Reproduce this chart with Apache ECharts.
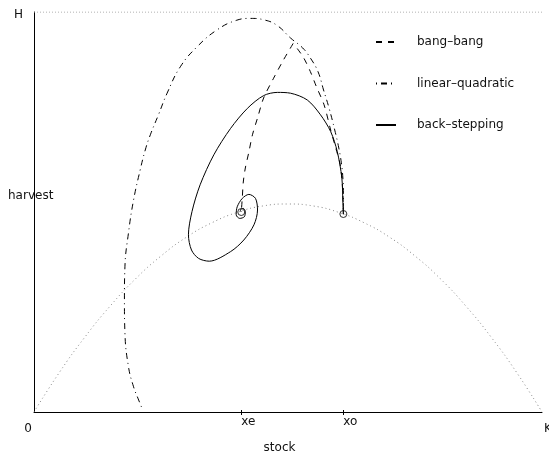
<!DOCTYPE html>
<html>
<head>
<meta charset="utf-8">
<script src="https://cdn.jsdelivr.net/npm/echarts@6/dist/echarts.min.js"></script>
<style>
html,body{margin:0;padding:0;background:#fff;}
#chart{width:549px;height:456px;}
</style>
</head>
<body>
<div id="chart"></div>
<script>
// ---- data (stock as fraction of K, harvest as fraction of H) ----
const xe = 0.408, xo = 0.609;
const ye = 0.500, yo = 0.495;
const xTickValues = [0, xe, xo, 1];
const xTickLabels = ['0', 'xe', 'xo', 'K'];
const yTickValues = [0.54, 1];
const yTickLabels = ['harvest', 'H'];

const growthX = [0,0.05,0.1,0.15,0.2,0.25,0.3,0.35,0.4,0.45,0.5,0.55,0.6,0.65,0.7,0.75,0.8,0.85,0.9,0.95,1];
const growthY = [0,0.099,0.187,0.265,0.333,0.390,0.437,0.473,0.499,0.515,0.520,0.515,0.499,0.473,0.437,0.390,0.333,0.265,0.187,0.099,0];
const capX = [0, 1];
const capY = [1, 1];

const bangUp = [[0.609,0.495],[0.608,0.543],[0.606,0.585],[0.602,0.623],[0.594,0.660],[0.584,0.705],[0.571,0.768],[0.556,0.813],[0.544,0.851],[0.531,0.885],[0.518,0.909],[0.510,0.921]];
const bangDown = [[0.510,0.921],[0.491,0.880],[0.471,0.833],[0.452,0.785],[0.440,0.735],[0.430,0.693],[0.423,0.650],[0.416,0.610],[0.412,0.575],[0.410,0.535],[0.408,0.500]];
const linQuad = [[0.609,0.495],[0.609,0.543],[0.608,0.585],[0.605,0.623],[0.600,0.660],[0.592,0.705],[0.581,0.759],[0.570,0.805],[0.559,0.851],[0.544,0.885],[0.529,0.910],[0.505,0.935],[0.479,0.966],[0.454,0.980],[0.426,0.984],[0.398,0.979],[0.360,0.955],[0.321,0.913],[0.288,0.863],[0.262,0.797],[0.245,0.743],[0.229,0.693],[0.219,0.655],[0.209,0.605],[0.196,0.530],[0.186,0.448],[0.179,0.363],[0.178,0.280],[0.179,0.198],[0.186,0.113],[0.196,0.063],[0.206,0.030],[0.214,0.005]];
const backStep = [[0.609,0.494],[0.608,0.526],[0.606,0.585],[0.597,0.651],[0.584,0.701],[0.564,0.743],[0.538,0.780],[0.505,0.797],[0.479,0.799],[0.452,0.791],[0.420,0.759],[0.387,0.709],[0.354,0.643],[0.327,0.568],[0.311,0.501],[0.304,0.443],[0.310,0.405],[0.324,0.384],[0.345,0.377],[0.387,0.401],[0.413,0.430],[0.433,0.468],[0.440,0.505],[0.436,0.534],[0.423,0.544],[0.410,0.534],[0.400,0.513],[0.398,0.493],[0.405,0.484],[0.414,0.488],[0.416,0.501],[0.412,0.509],[0.406,0.505],[0.408,0.500]];
const equilibria = [[xe, ye], [xo, yo]];
const legendNames = ['bang–bang', 'linear–quadratic', 'back–stepping'];

// ---- chart ----
const FONT = 'DejaVu Sans';
const TXT = '#111';
const chart = echarts.init(document.getElementById('chart'), null, {renderer: 'canvas'});
const zip = (a, b) => a.map((v, i) => [v, b[i]]);
function findIndex(list, v) {
  for (let i = 0; i < list.length; i++) if (Math.abs(v - list[i]) < 1e-6) return i;
  return -1;
}
const richKeys = ['z', 'a', 'a', 'k'];
const yRichKeys = ['n', 'h'];
const clear = 'rgba(0,0,0,0)';
const lineCommon = {type: 'line', showSymbol: false, symbol: 'none', smooth: 0.3, silent: true, z: 3,
  itemStyle: {color: clear, borderColor: clear, borderWidth: 0}};

chart.setOption({
  animation: false,
  grid: {left: 34, right: 7, top: 12, bottom: 44, containLabel: false, outerBoundsMode: 'none'},
  legend: {
    data: legendNames,
    orient: 'vertical',
    left: 375, top: 36,
    padding: 0,
    itemWidth: 20, itemHeight: 14, itemGap: 29.5,
    itemStyle: {color: clear, borderColor: clear, borderWidth: 0},
    textStyle: {color: TXT, fontSize: 12, fontFamily: FONT, padding: [0, 0, 0, 16]},
    selectedMode: false
  },
  xAxis: [{
    type: 'value', min: 0, max: 1,
    name: 'stock', nameLocation: 'middle', nameGap: 30,
    nameTextStyle: {color: TXT, fontSize: 12, fontFamily: FONT, padding: [0, 17, 0, 0]},
    axisLine: {show: true, lineStyle: {color: '#000', width: 1}},
    axisTick: {show: true, customValues: [xe, xo], length: 3, lineStyle: {color: '#000'}},
    splitLine: {show: false},
    axisLabel: {
      customValues: xTickValues, margin: 4, showMinLabel: true, showMaxLabel: true,
      color: TXT, fontSize: 12, fontFamily: FONT,
      formatter: (v) => { const i = findIndex(xTickValues, v); return i < 0 ? '' : '{' + richKeys[i] + '|' + xTickLabels[i] + '}'; },
      rich: {
        z: {color: TXT, fontSize: 12, fontFamily: FONT, padding: [7, 12, 0, 0]},
        a: {color: TXT, fontSize: 12, fontFamily: FONT, padding: [0, 0, 0, 14]},
        k: {color: TXT, fontSize: 12, fontFamily: FONT, padding: [7, 0, 0, 12]}
      }
    }
  }, {
    type: 'value', min: 0, max: 1, gridIndex: 0, position: 'bottom',
    axisLine: {show: false},
    axisTick: {show: true, inside: true, customValues: [xe, xo], length: 2, lineStyle: {color: '#000'}},
    axisLabel: {show: false}, splitLine: {show: false}
  }],
  yAxis: {
    type: 'value', min: 0, max: 1,
    axisLine: {show: true, lineStyle: {color: '#000', width: 1}},
    axisTick: {show: false},
    splitLine: {show: false},
    axisLabel: {customValues: yTickValues, margin: 26, align: 'left', showMaxLabel: true,
      color: TXT, fontSize: 12, fontFamily: FONT,
      formatter: (v) => { const i = findIndex(yTickValues, v); return i < 0 ? '' : '{' + yRichKeys[i] + '|' + yTickLabels[i] + '}'; },
      rich: {
        n: {color: TXT, fontSize: 12, fontFamily: FONT},
        h: {color: TXT, fontSize: 12, fontFamily: FONT, padding: [5, 0, 0, 6]}
      }
    }
  },
  series: [
    {type: 'line', name: 'cap', data: zip(capX, capY), showSymbol: false, symbol: 'none', silent: true,
      lineStyle: {color: '#999', width: 1, type: [1, 2]}, z: 1},
    {type: 'line', name: 'growth', data: zip(growthX, growthY), showSymbol: false, symbol: 'none', smooth: 0.5, silent: true,
      lineStyle: {color: '#888', width: 1, type: [1, 3]}, z: 1},
    Object.assign({}, lineCommon, {name: legendNames[0], data: bangUp, lineStyle: {color: '#000', width: 1, type: [6, 6]}}),
    Object.assign({}, lineCommon, {name: legendNames[0], data: bangDown, lineStyle: {color: '#000', width: 1, type: [6, 6]}}),
    Object.assign({}, lineCommon, {name: legendNames[1], data: linQuad, smooth: 0.45, lineStyle: {color: '#000', width: 1, type: [1, 4, 6, 4]}}),
    Object.assign({}, lineCommon, {name: legendNames[2], data: backStep, lineStyle: {color: '#000', width: 1, type: 'solid'}}),
    {type: 'scatter', name: 'equilibria', data: equilibria, symbol: 'circle', symbolSize: 7, silent: true, z: 4,
      itemStyle: {color: clear, borderColor: '#000', borderWidth: 1}}
  ]
});
</script>
</body>
</html>
